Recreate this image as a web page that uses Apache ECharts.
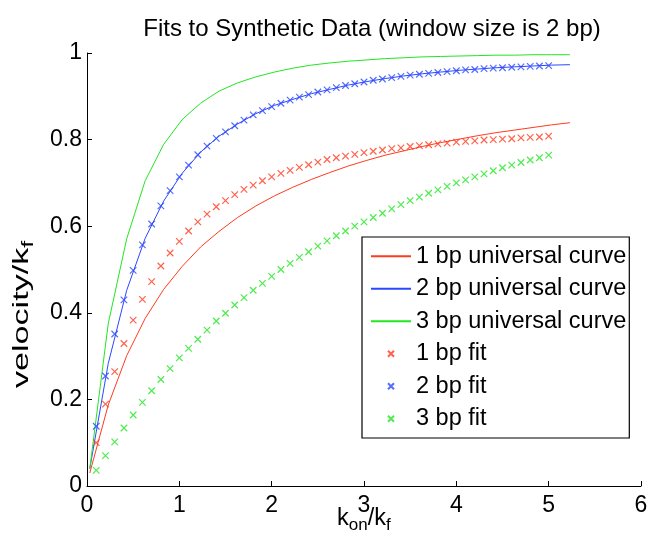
<!DOCTYPE html>
<html>
<head>
<meta charset="utf-8">
<script src="https://cdn.jsdelivr.net/npm/echarts@6/dist/echarts.min.js"></script>
<style>
  html, body { margin: 0; padding: 0; background: #fff; }
  #chart { width: 651px; height: 542px; }
</style>
</head>
<body>
<div id="chart"></div>
<script>
// k_on/k_f sample points of the universal curves
const curveK = [0.03, 0.23, 0.43, 0.63, 0.83, 1.03, 1.23, 1.43, 1.63, 1.83, 2.03, 2.23, 2.43, 2.63,
  2.83, 3.03, 3.23, 3.43, 3.63, 3.83, 4.03, 4.23, 4.43, 4.63, 4.83, 5.03, 5.23];
const curve1 = [0.030, 0.187, 0.301, 0.387, 0.454, 0.507, 0.552, 0.588, 0.620, 0.647, 0.670, 0.690, 0.708, 0.724,
  0.739, 0.752, 0.764, 0.774, 0.784, 0.793, 0.801, 0.809, 0.816, 0.822, 0.828, 0.834, 0.839];
const curve2 = [0.040, 0.283, 0.452, 0.572, 0.658, 0.722, 0.771, 0.808, 0.836, 0.860, 0.879, 0.893, 0.906, 0.916,
  0.926, 0.934, 0.941, 0.947, 0.952, 0.956, 0.960, 0.963, 0.966, 0.968, 0.970, 0.972, 0.973];
const curve3 = [0.040, 0.375, 0.571, 0.705, 0.789, 0.846, 0.884, 0.912, 0.931, 0.945, 0.956, 0.965, 0.972, 0.977,
  0.981, 0.984, 0.987, 0.989, 0.991, 0.992, 0.993, 0.994, 0.995, 0.995, 0.996, 0.996, 0.996];

// k_on/k_f of the fitted points
const fitK = [0.1, 0.2, 0.3, 0.4, 0.5, 0.6, 0.7, 0.8, 0.9, 1.0, 1.1, 1.2, 1.3, 1.4, 1.5, 1.6, 1.7, 1.8, 1.9, 2.0,
  2.1, 2.2, 2.3, 2.4, 2.5, 2.6, 2.7, 2.8, 2.9, 3.0, 3.1, 3.2, 3.3, 3.4, 3.5, 3.6, 3.7, 3.8, 3.9, 4.0,
  4.1, 4.2, 4.3, 4.4, 4.5, 4.6, 4.7, 4.8, 4.9, 5.0];
const fit1 = [0.100, 0.189, 0.264, 0.329, 0.383, 0.431, 0.472, 0.508, 0.538, 0.565, 0.589, 0.610, 0.628, 0.645, 0.659,
  0.673, 0.685, 0.695, 0.705, 0.714, 0.722, 0.729, 0.736, 0.742, 0.748, 0.754, 0.758, 0.762, 0.766, 0.770,
  0.773, 0.776, 0.779, 0.781, 0.784, 0.786, 0.788, 0.790, 0.792, 0.794, 0.796, 0.797, 0.799, 0.800, 0.801,
  0.802, 0.804, 0.805, 0.806, 0.808];
const fit2 = [0.138, 0.254, 0.351, 0.430, 0.498, 0.557, 0.605, 0.647, 0.682, 0.714, 0.741, 0.765, 0.785, 0.803, 0.818,
  0.832, 0.845, 0.857, 0.867, 0.876, 0.884, 0.891, 0.898, 0.904, 0.910, 0.915, 0.920, 0.925, 0.929, 0.933,
  0.937, 0.940, 0.943, 0.946, 0.949, 0.951, 0.953, 0.955, 0.957, 0.959, 0.961, 0.962, 0.964, 0.965, 0.966,
  0.967, 0.968, 0.969, 0.970, 0.971];
const fit3 = [0.036, 0.070, 0.102, 0.134, 0.164, 0.193, 0.220, 0.246, 0.271, 0.296, 0.318, 0.339, 0.360, 0.381, 0.399,
  0.418, 0.435, 0.452, 0.468, 0.484, 0.500, 0.514, 0.528, 0.541, 0.554, 0.566, 0.578, 0.589, 0.600, 0.610,
  0.620, 0.630, 0.640, 0.650, 0.659, 0.667, 0.676, 0.684, 0.692, 0.700, 0.707, 0.714, 0.721, 0.728, 0.735,
  0.741, 0.747, 0.753, 0.758, 0.764];

const names = ["1 bp universal curve", "2 bp universal curve", "3 bp universal curve",
  "1 bp fit", "2 bp fit", "3 bp fit"];
const colors = ["#ff3b1e", "#2b48ff", "#22e622"];

const FONT = "Liberation Sans, Arial, Helvetica, sans-serif";
const CROSS = "path://M0,0L10,10M0,10L10,0";

const zip = (xs, ys) => xs.map((x, i) => [x, ys[i]]);

const chart = echarts.init(document.getElementById("chart"));

const lineSeries = [curve1, curve2, curve3].map((ys, i) => ({
  name: names[i],
  type: "line",
  data: zip(curveK, ys),
  symbol: "none",
  smooth: false,
  lineStyle: { color: colors[i], width: 1 },
  itemStyle: { color: colors[i] },
  z: 2
}));

const fitSeries = [fit1, fit2, fit3].map((ys, i) => ({
  name: names[3 + i],
  type: "scatter",
  data: zip(fitK, ys),
  symbol: CROSS,
  symbolSize: 6.5,
  itemStyle: { color: "transparent", borderColor: colors[i], borderWidth: 1.2 },
  z: 3
}));

// legend: hide the dot that ECharts puts on line icons
const legendData = names.map((n, i) => i < 3 ? { name: n, itemStyle: { opacity: 0 } } : { name: n });

const subLabel = (text, big, small) => ({
  text,
  rich: {
    m: { fontFamily: FONT, fontSize: big, color: "#000", lineHeight: 30, verticalAlign: "middle" },
    s: { fontFamily: FONT, fontSize: small, color: "#000", lineHeight: 30, verticalAlign: "bottom" }
  }
});

chart.setOption({
  animation: false,
  backgroundColor: "#fff",
  title: {
    text: "Fits to Synthetic Data (window size is 2 bp)",
    left: 367, top: 12, textAlign: "center",
    textStyle: { fontFamily: FONT, fontSize: 24, fontWeight: "normal", color: "#000" }
  },
  grid: { left: 87, right: 10, top: 53, bottom: 56, containLabel: false, outerBoundsMode: "none" },
  legend: {
    orient: "vertical",
    left: 362, top: 237,
    data: legendData,
    itemWidth: 40, itemHeight: 6, itemGap: 6,
    padding: [6, 3, 6, 8],
    borderColor: "#000", borderWidth: 1.2,
    backgroundColor: "#fff",
    textStyle: { fontFamily: FONT, fontSize: 23.5, color: "#000", lineHeight: 26.5 }
  },
  xAxis: {
    type: "value", min: 0, max: 6, interval: 1,
    axisLine: { lineStyle: { color: "#000", width: 1 } },
    axisTick: { inside: true, length: 5, lineStyle: { color: "#000" } },
    axisLabel: { fontFamily: FONT, fontSize: 23, color: "#000", margin: 8 },
    splitLine: { show: false }
  },
  yAxis: {
    type: "value", min: 0, max: 1, interval: 0.2,
    axisLine: { show: true, lineStyle: { color: "#000", width: 1 } },
    axisTick: { show: true, inside: true, length: 5, lineStyle: { color: "#000" } },
    axisLabel: { fontFamily: FONT, fontSize: 23, color: "#000", margin: 5 },
    splitLine: { show: false }
  },
  graphic: [
    {
      type: "text", left: 337, top: 507,
      style: subLabel("{m|k}{s|on}{m|/k}{s|f}", 23.5, 17)
    },
    {
      // reference draws this label stretched along its length
      type: "text", x: 7, y: 388, rotation: Math.PI / 2, scaleX: 1.55,
      style: subLabel("{m|velocity/k}{s|f}", 22, 16)
    }
  ],
  series: lineSeries.concat(fitSeries)
});
</script>
</body>
</html>
